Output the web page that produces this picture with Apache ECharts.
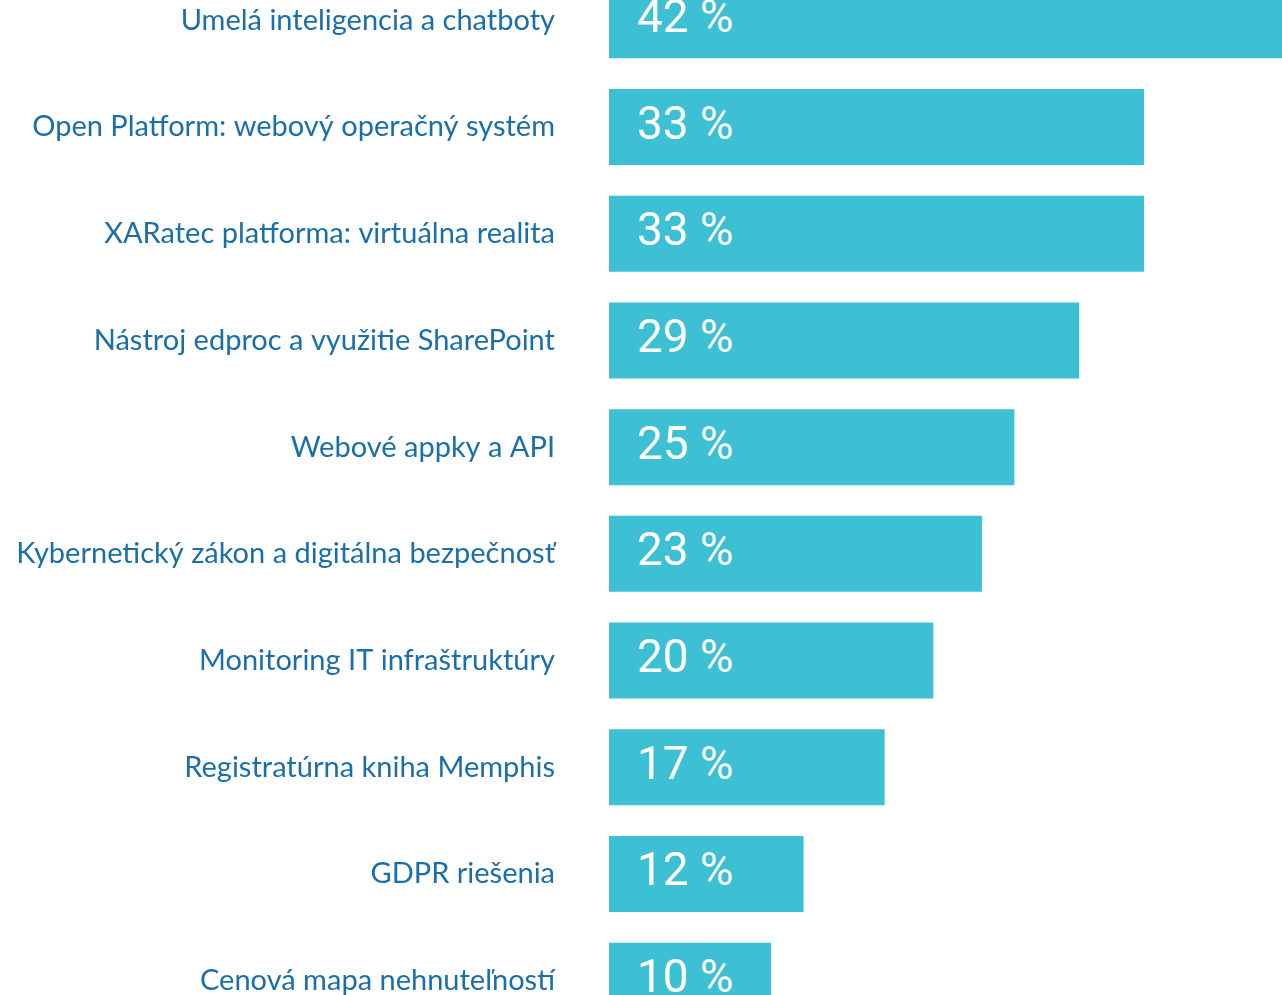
<!DOCTYPE html>
<html>
<head>
<meta charset="utf-8">
<script src="https://cdn.jsdelivr.net/npm/echarts@6/dist/echarts.min.js"></script>
<style>
  html, body { margin: 0; padding: 0; background: #fff; }
  #chart { width: 1282px; height: 995px; }
</style>
</head>
<body>
<div id="chart"></div>
<script>
// categories top to bottom
const categories = [
  'Umelá inteligencia a chatboty',
  'Open Platform: webový operačný systém',
  'XARatec platforma: virtuálna realita',
  'Nástroj edproc a využitie SharePoint',
  'Webové appky a API',
  'Kybernetický zákon a digitálna bezpečnosť',
  'Monitoring IT infraštruktúry',
  'Registratúrna kniha Memphis',
  'GDPR riešenia',
  'Cenová mapa nehnuteľností'
]
const values = [42, 33, 33, 29, 25, 23, 20, 17, 12, 10]

const chart = echarts.init(document.getElementById('chart'))
chart.setOption({
  animation: false,
  grid: {
    left: 609,
    top: -33,
    width: 681,
    height: 1067,
    outerBoundsMode: 'none',
    containLabel: false
  },
  xAxis: {
    type: 'value',
    min: 0,
    max: 42,
    show: false
  },
  yAxis: {
    type: 'category',
    inverse: true,
    data: categories,
    axisLine: { show: false },
    axisTick: { show: false },
    axisLabel: {
      margin: 54,
      padding: [0, 0, 5, 0],
      color: '#1a6fa8',
      fontSize: 29,
      fontFamily: 'Lato, sans-serif'
    }
  },
  series: [{
    type: 'bar',
    data: values,
    barWidth: 76,
    itemStyle: { color: '#3dc0d3' },
    label: {
      show: true,
      position: 'insideLeft',
      distance: 28,
      formatter: p => p.value + ' %',
      color: '#fff',
      fontSize: 46,
      fontFamily: 'Roboto, sans-serif'
    }
  }]
})
</script>
</body>
</html>
